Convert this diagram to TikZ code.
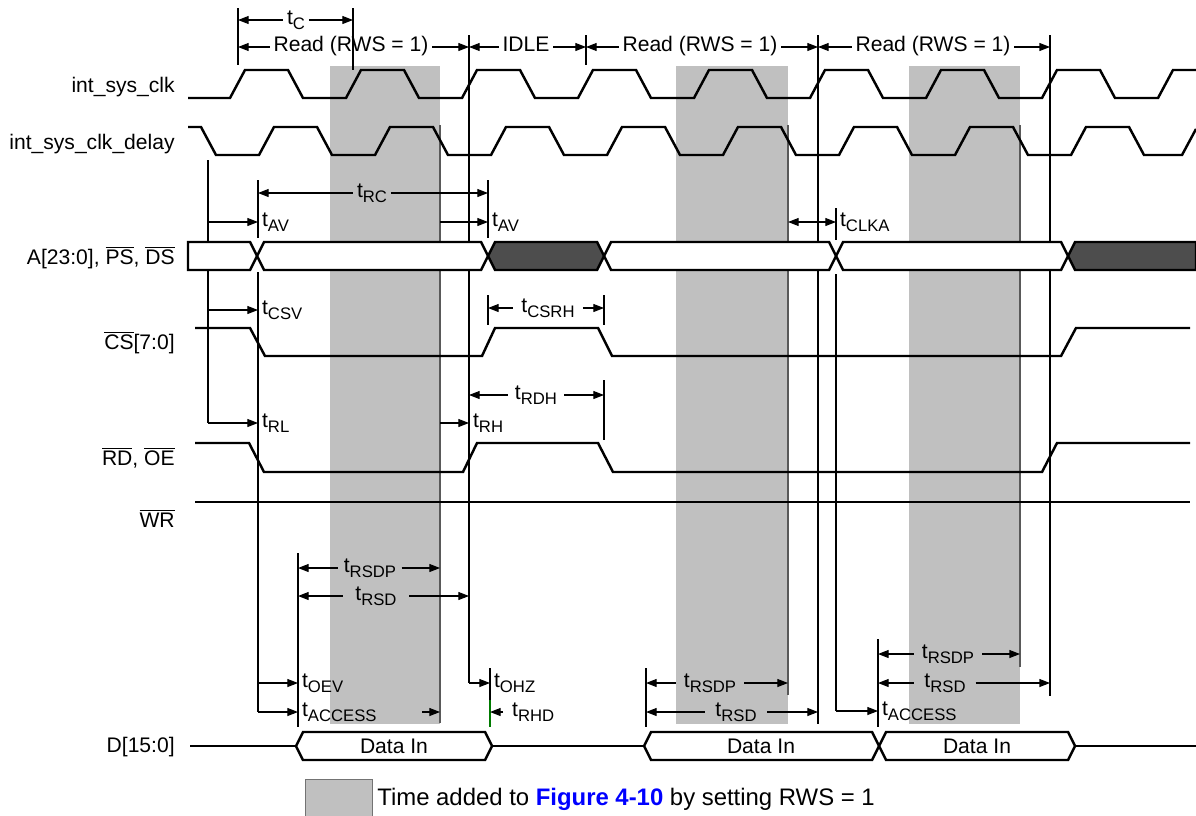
\documentclass[tikz,border=0pt]{standalone}
\usepackage{fontspec}
\setmainfont{Liberation Sans}
\usetikzlibrary{arrows.meta}

\definecolor{shadegray}{HTML}{C0C0C0}
\definecolor{busdark}{HTML}{4D4D4D}
\definecolor{linkblue}{HTML}{0000FF}
\definecolor{holdgreen}{HTML}{007A00}

\newcommand{\tsub}[1]{t\raisebox{-2.6pt}{\fontsize{9.5pt}{10pt}\selectfont #1}}
\newcommand{\ovl}[1]{$\overline{\mbox{#1}}$}
% bus segment: fill, left x, right x, middle y
\newcommand{\busseg}[4]{%
  \draw[sig, fill=#1] (#2,#4) -- ({#2+7},{#4-14}) -- ({#3-7},{#4-14})
    -- (#3,#4) -- ({#3-7},{#4+14}) -- ({#2+7},{#4+14}) -- cycle;}

\begin{document}
\begin{tikzpicture}[x=0.02cm, y=-0.02cm, line join=miter,
    >={Triangle[length=6pt, width=4.5pt]},
    font=\fontsize{12pt}{14pt}\selectfont,
    sig/.style={line width=1.4pt},
    guide/.style={line width=0.6pt},
    rimline/.style={line width=0.6pt, black!65},
    dimline/.style={line width=0.6pt},
    lbl/.style={inner sep=1pt, anchor=mid west},
    gaplbl/.style={inner xsep=2pt, inner ysep=1pt, anchor=mid},
    sname/.style={anchor=east, inner sep=0pt}]

  \useasboundingbox (0,0) rectangle (1196,815);

  % Shaded wait states
  \fill[shadegray] (330,66) rectangle (440,724);
  \fill[shadegray] (676,66) rectangle (788,724);
  \fill[shadegray] (909,66) rectangle (1020,724);

  % Guide line tops
  \coordinate (gC0) at (238,8);
  \coordinate (gC1) at (353,8);
  \coordinate (gS)  at (208,160);
  \coordinate (gE)  at (258,180);
  \coordinate (gP1) at (440,125);
  \coordinate (gR1) at (469,35);
  \coordinate (gF)  at (488,180);
  \coordinate (gI)  at (586,35);
  \coordinate (gH)  at (604,295);
  \coordinate (gD1) at (298,553);
  \coordinate (gZ)  at (490,668);
  \coordinate (gD2) at (646,668);
  \coordinate (gP2) at (788,125);
  \coordinate (gR2) at (818,35);
  \coordinate (gK)  at (836,208);
  \coordinate (gD3) at (878,639);
  \coordinate (gP3) at (1020,125);
  \coordinate (gR3) at (1050,35);

  % Guide lines
  \draw[guide] (gC0) -- ++(0,57);
  \draw[guide] (gC1) -- ++(0,62);
  \draw[guide] (gS) -- ++(0,263);
  \draw[guide] (gE) -- ++(0,58) ++(0,34) -- ++(0,440);
  \draw[rimline] (gP1) -- ++(0,598);
  \draw[guide] (gR1) -- ++(0,648);
  \draw[guide] (gF) -- ++(0,58);
  \draw[guide] (gF |- gH) -- ++(0,30);
  \draw[guide] (gH) -- ++(0,30) ++(0,55) -- ++(0,60);
  \draw[guide] (gI) -- ++(0,30);
  \draw[guide] (gD1) -- ++(0,174);
  \draw[guide] (gZ) -- ++(0,32) coordinate (gZg);
  \draw[guide, holdgreen] (gZg) -- ++(0,27);
  \draw[guide] (gD2) -- ++(0,59);
  \draw[rimline] (gP2) -- ++(0,570);
  \draw[guide] (gR2) -- ++(0,689);
  \draw[guide] (gK) -- ++(0,32) ++(0,34) -- ++(0,437);
  \draw[guide] (gD3) -- ++(0,88);
  \draw[rimline] (gP3) -- ++(0,542);
  \draw[guide] (gR3) -- ++(0,661);

  % int_sys_clk
  \node[sname] (nclk) at (175,87) {int\_sys\_clk};
  \draw[sig] (188,98) foreach \k in {0,...,7} {-- ({230+116*\k},98) -- ({245+116*\k},70)
    -- ({288+116*\k},70) -- ({303+116*\k},98)} -- (1158,98) -- (1173,70) -- (1196,70);

  % int_sys_clk_delay
  \node[sname] (ndly) at (175,144) {int\_sys\_clk\_delay};
  \draw[sig] (188,127) -- (201,127) -- (216,155) foreach \k in {0,...,7} {-- ({259+116*\k},155)
    -- ({274+116*\k},127) -- ({317+116*\k},127) -- ({332+116*\k},155)} -- (1182,155) -- (1196,129);

  % address bus
  \node[sname] (nadr) at (175,258) {A[23:0], \ovl{PS}, \ovl{DS}};
  \draw[sig, fill=white] (188,242) -- (250,242) -- (257,256) -- (250,270) -- (188,270) -- cycle;
  \busseg{white}{257}{488}{256}
  \busseg{busdark}{488}{604}{256}
  \busseg{white}{604}{836}{256}
  \busseg{white}{836}{1068}{256}
  \draw[sig, fill=busdark] (1068,256) -- (1075,242) -- (1196,242) -- (1196,270) -- (1075,270) -- cycle;

  % chip select
  \node[sname] (ncs) at (175,343) {\ovl{CS}[7:0]};
  \draw[sig] (195,328) -- (250,328) -- (265,356) -- (482,356) -- (495,328) -- (598,328)
    -- (612,356) -- (1061,356) -- (1076,328) -- (1190,328);

  % read / output enable
  \node[sname] (nrd) at (175,458) {\ovl{RD}, \ovl{OE}};
  \draw[sig] (195,443) -- (249,443) -- (264,472) -- (463,472) -- (477,443) -- (598,443)
    -- (613,472) -- (1042,472) -- (1057,443) -- (1190,443);

  % write
  \node[sname] (nwr) at (175,518) {\ovl{WR}};
  \draw[sig] (195,502) -- (1190,502);

  % data bus
  \node[sname] (ndat) at (175,747) {D[15:0]};
  \draw[sig] (190,746) -- (296,746);
  \busseg{white}{296}{492}{746}
  \draw[sig] (492,746) -- (644,746);
  \busseg{white}{644}{879}{746}
  \busseg{white}{879}{1075}{746}
  \draw[sig] (1075,746) -- (1196,746);
  \node (din1) at (394,746) {Data In};
  \node (din2) at (761,746) {Data In};
  \node (din3) at (977,746) {Data In};

  % Cycle labels
  \node[gaplbl] (tc) at (296,20) {\tsub{C}};
  \draw[dimline,<-] (tc.mid west -| gC0) -- (tc.mid west);
  \draw[dimline,->] (tc.mid east) -- (tc.mid east -| gC1);
  \node[gaplbl] (rd1) at (351,47) {Read (RWS = 1)};
  \draw[dimline,<-] (rd1.mid west -| gC0) -- (rd1.mid west);
  \draw[dimline,->] (rd1.mid east) -- (rd1.mid east -| gR1);
  \node[gaplbl] (idl) at (526,47) {IDLE};
  \draw[dimline,<-] (idl.mid west -| gR1) -- (idl.mid west);
  \draw[dimline,->] (idl.mid east) -- (idl.mid east -| gI);
  \node[gaplbl] (rd2) at (700,47) {Read (RWS = 1)};
  \draw[dimline,<-] (rd2.mid west -| gI) -- (rd2.mid west);
  \draw[dimline,->] (rd2.mid east) -- (rd2.mid east -| gR2);
  \node[gaplbl] (rd3) at (933,47) {Read (RWS = 1)};
  \draw[dimline,<-] (rd3.mid west -| gR2) -- (rd3.mid west);
  \draw[dimline,->] (rd3.mid east) -- (rd3.mid east -| gR3);

  % Address and strobe timings
  \node[gaplbl] (trc) at (372,193) {\tsub{RC}};
  \draw[dimline,<-] (trc.mid west -| gE) -- (trc.mid west);
  \draw[dimline,->] (trc.mid east) -- (trc.mid east -| gF);
  \node[lbl] (tav1) at (260,222) {\tsub{AV}};
  \draw[dimline,->] (tav1.mid west -| gS) -- (tav1.mid west -| gE);
  \node[lbl] (tav2) at (490,222) {\tsub{AV}};
  \draw[dimline,->] (tav2.mid west -| gP1) -- (tav2.mid west -| gF);
  \node[lbl] (tclka) at (838,222) {\tsub{CLKA}};
  \draw[dimline,<->] (tclka.mid west -| gP2) -- (tclka.mid west -| gK);
  \node[lbl] (tcsv) at (260,310) {\tsub{CSV}};
  \draw[dimline,->] (tcsv.mid west -| gS) -- (tcsv.mid west -| gE);
  \node[gaplbl, inner xsep=4.5pt] (tcsrh) at (548,308) {\tsub{CSRH}};
  \draw[dimline,<-] (tcsrh.mid west -| gF) -- (tcsrh.mid west);
  \draw[dimline,->] (tcsrh.mid east) -- (tcsrh.mid east -| gH);
  \node[gaplbl, inner xsep=4pt] (trdh) at (536,395) {\tsub{RDH}};
  \draw[dimline,<-] (trdh.mid west -| gR1) -- (trdh.mid west);
  \draw[dimline,->] (trdh.mid east) -- (trdh.mid east -| gH);
  \node[lbl] (trl) at (260,423) {\tsub{RL}};
  \draw[dimline,->] (trl.mid west -| gS) -- (trl.mid west -| gE);
  \node[lbl] (trh) at (471,423) {\tsub{RH}};
  \draw[dimline,->] (trh.mid west -| gP1) -- (trh.mid west -| gR1);

  % Data timings
  \node[gaplbl, inner xsep=3pt] (trsdp1) at (370,568) {\tsub{RSDP}};
  \draw[dimline,<-] (trsdp1.mid west -| gD1) -- (trsdp1.mid west);
  \draw[dimline,->] (trsdp1.mid east) -- (trsdp1.mid east -| gP1);
  \node[gaplbl, inner xsep=7pt] (trsd1) at (376,596) {\tsub{RSD}};
  \draw[dimline,<-] (trsd1.mid west -| gD1) -- (trsd1.mid west);
  \draw[dimline,->] (trsd1.mid east) -- (trsd1.mid east -| gR1);
  \node[lbl] (toev) at (300,683) {\tsub{OEV}};
  \draw[dimline,->] (toev.mid west -| gE) -- (toev.mid west -| gD1);
  \node[lbl] (tacc1) at (300,712) {\tsub{ACCESS}};
  \draw[dimline,->] (tacc1.mid west -| gE) -- (tacc1.mid west -| gD1);
  \coordinate (accend) at (422,712);
  \draw[dimline,->] (accend) -- (accend -| gP1);
  \node[lbl] (tohz) at (492,683) {\tsub{OHZ}};
  \draw[dimline,->] (tohz.mid west -| gR1) -- (tohz.mid west -| gZ);
  \node[lbl, inner xsep=5pt] (trhd) at (503,712) {\tsub{RHD}};
  \draw[dimline,->] (trhd.mid west) -- (trhd.mid west -| gZ);
  \node[gaplbl, inner xsep=4.5pt] (trsdp2) at (710,683) {\tsub{RSDP}};
  \draw[dimline,<-] (trsdp2.mid west -| gD2) -- (trsdp2.mid west);
  \draw[dimline,->] (trsdp2.mid east) -- (trsdp2.mid east -| gP2);
  \node[gaplbl, inner xsep=6pt] (trsd2) at (736,712) {\tsub{RSD}};
  \draw[dimline,<-] (trsd2.mid west -| gD2) -- (trsd2.mid west);
  \draw[dimline,->] (trsd2.mid east) -- (trsd2.mid east -| gR2);
  \node[lbl] (tacc2) at (880,711) {\tsub{ACCESS}};
  \draw[dimline,->] (tacc2.mid west -| gK) -- (tacc2.mid west -| gD3);
  \node[gaplbl, inner xsep=4.5pt] (trsdp3) at (948,654) {\tsub{RSDP}};
  \draw[dimline,<-] (trsdp3.mid west -| gD3) -- (trsdp3.mid west);
  \draw[dimline,->] (trsdp3.mid east) -- (trsdp3.mid east -| gP3);
  \node[gaplbl, inner xsep=5.5pt] (trsd3) at (945,683) {\tsub{RSD}};
  \draw[dimline,<-] (trsd3.mid west -| gD3) -- (trsd3.mid west);
  \draw[dimline,->] (trsd3.mid east) -- (trsd3.mid east -| gR3);

  % Legend
  \draw[black!55, fill=shadegray] (305,779) rectangle (372,817);
  \node[anchor=west, inner sep=0pt, font=\fontsize{13.6pt}{16pt}\selectfont] (lgd) at (377,799)
    {Time added to \textcolor{linkblue}{\bfseries Figure 4-10} by setting RWS = 1};
\end{tikzpicture}
\end{document}
